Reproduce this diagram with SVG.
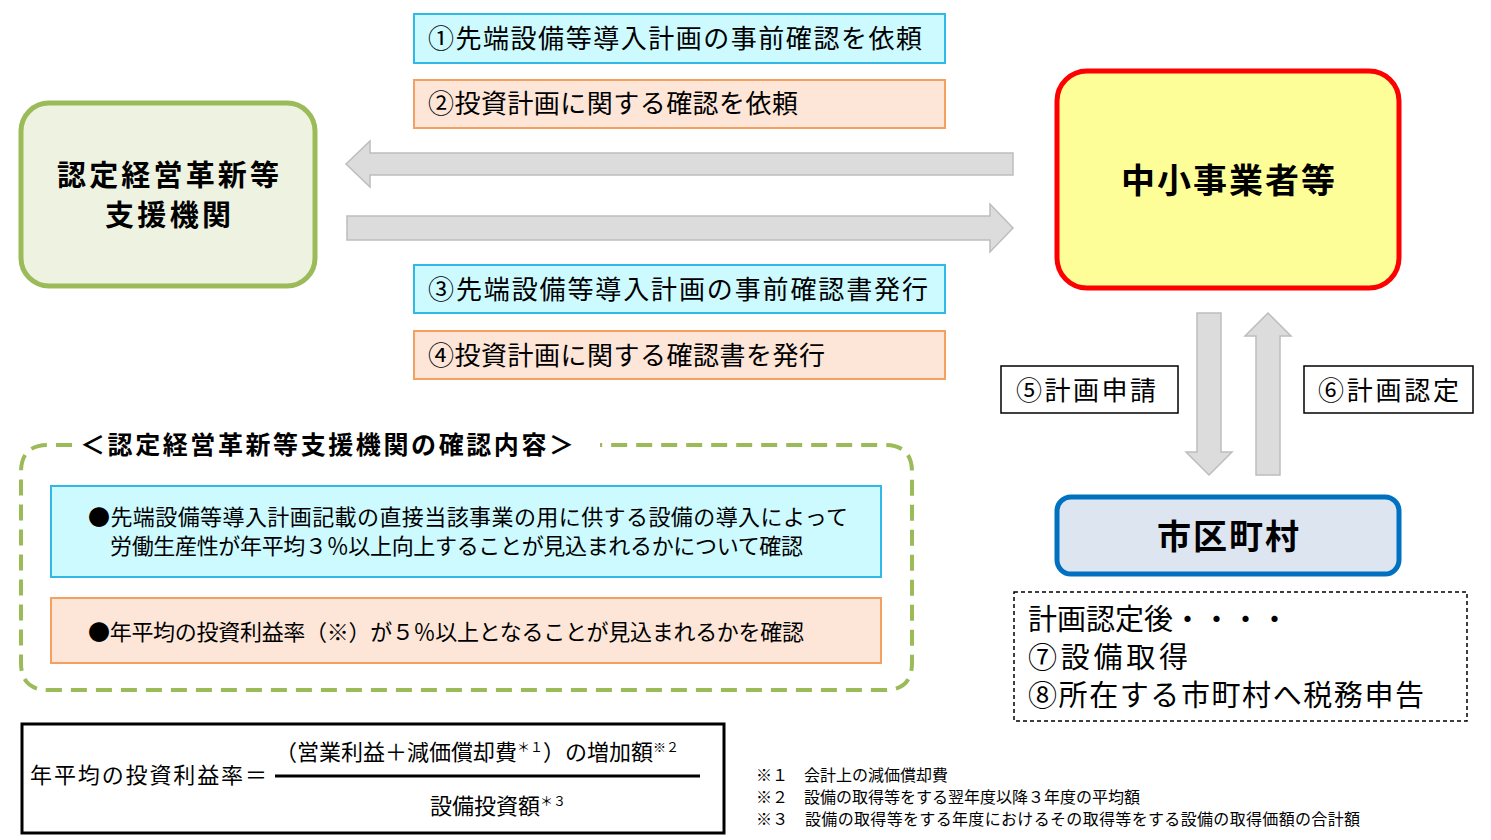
<svg xmlns="http://www.w3.org/2000/svg" width="1491" height="840" viewBox="0 0 1491 840">
<style>
text{font-family:"Noto Sans CJK JP","Noto Sans CJK SC",sans-serif;fill:#000}
.cy{fill:#ccfaff;stroke:#31b8e6;stroke-width:2}
.or{fill:#fde6d8;stroke:#f4a060;stroke-width:2}
.arr{fill:#dcdcdc;stroke:#bdbdbd;stroke-width:1.5}
.lbl{font-size:26px}
</style>
<rect width="1491" height="840" fill="#fff"/>
<g id="shien">
<rect x="21" y="103" width="294" height="183" rx="28" fill="#edf2e1" stroke="#9bbb59" stroke-width="5"/>
<text x="168" y="186" font-size="29" font-weight="bold" text-anchor="middle" textLength="222">認定経営革新等</text>
<text x="168" y="226" font-size="29" font-weight="bold" text-anchor="middle" textLength="126">支援機関</text>
</g>
<g id="chusho">
<rect x="1057" y="71" width="342" height="217" rx="30" fill="#fefe98" stroke="#ff0000" stroke-width="5"/>
<text x="1228" y="193" font-size="34" font-weight="bold" text-anchor="middle" textLength="214">中小事業者等</text>
</g>
<g id="shichoson">
<rect x="1057" y="497" width="342" height="77" rx="14" fill="#dde5f1" stroke="#0070c0" stroke-width="5"/>
<text x="1228" y="549" font-size="34" font-weight="bold" text-anchor="middle" textLength="142">市区町村</text>
</g>
<g id="l1"><rect x="414" y="14" width="531" height="49" class="cy"/><text x="428" y="48" class="lbl" textLength="494">①先端設備等導入計画の事前確認を依頼</text></g>
<g id="l2"><rect x="414" y="80" width="531" height="48" class="or"/><text x="428" y="113" class="lbl" textLength="370">②投資計画に関する確認を依頼</text></g>
<g id="l3"><rect x="414" y="265" width="531" height="48" class="cy"/><text x="428" y="299" class="lbl" textLength="500">③先端設備等導入計画の事前確認書発行</text></g>
<g id="l4"><rect x="414" y="331" width="531" height="48" class="or"/><text x="428" y="365" class="lbl" textLength="397">④投資計画に関する確認書を発行</text></g>
<g id="l5"><rect x="1001" y="366" width="177" height="47" fill="#fff" stroke="#000" stroke-width="1.5"/><text x="1016" y="400" class="lbl" textLength="140">⑤計画申請</text></g>
<g id="l6"><rect x="1304" y="366" width="169" height="47" fill="#fff" stroke="#000" stroke-width="1.5"/><text x="1318" y="400" class="lbl" textLength="141">⑥計画認定</text></g>
<g id="connectors">
<polygon class="arr" points="1013,153 370,153 370,141 346,164 370,187 370,175 1013,175"/>
<polygon class="arr" points="347,216 990,216 990,204 1013,228 990,252 990,240 347,240"/>
<polygon class="arr" points="1197,313 1221,313 1221,452 1232,452 1209,475 1186,452 1197,452"/>
<polygon class="arr" points="1256,475 1280,475 1280,336 1291,336 1268,313 1245,336 1256,336"/>
</g>
<g id="after">
<rect x="1014" y="592" width="453" height="129" fill="#fff" stroke="#000" stroke-width="1.5" stroke-dasharray="4,3"/>
<text x="1028" y="630" font-size="29">計画認定後・・・・</text>
<text x="1028" y="668" font-size="29" textLength="160">⑦設備取得</text>
<text x="1028" y="706" font-size="29" textLength="396">⑧所在する市町村へ税務申告</text>
</g>
<g id="kakunin">
<path d="M72,445 H48 Q21,445 21,472 V663 Q21,690 48,690 H885 Q912,690 912,663 V472 Q912,445 885,445 H600" fill="none" stroke="#9bbb59" stroke-width="4" stroke-dasharray="16,9"/>
<text x="80" y="454" font-size="25" font-weight="bold" textLength="494">＜認定経営革新等支援機関の確認内容＞</text>
<rect x="51" y="486" width="830" height="91" class="cy"/>
<text x="88" y="525" font-size="22" textLength="760">●先端設備等導入計画記載の直接当該事業の用に供する設備の導入によって</text>
<text x="110" y="554" font-size="22" textLength="693">労働生産性が年平均３％以上向上することが見込まれるかについて確認</text>
<rect x="51" y="598" width="830" height="65" class="or"/>
<text x="88" y="640" font-size="22" textLength="716">●年平均の投資利益率（※）が５％以上となることが見込まれるかを確認</text>
</g>
<g id="formula">
<rect x="22" y="724" width="702" height="109" fill="#fff" stroke="#000" stroke-width="3"/>
<text x="30" y="783" font-size="22" textLength="237">年平均の投資利益率＝</text>
<line x1="275" y1="776" x2="700" y2="776" stroke="#000" stroke-width="3"/>
<text x="275" y="760" font-size="22">（営業利益＋減価償却費<tspan font-size="13" dy="-8">＊１</tspan><tspan dy="8">）の増加額</tspan><tspan font-size="13" dy="-8">※２</tspan></text>
<text x="430" y="814" font-size="22">設備投資額<tspan font-size="13" dy="-8">＊３</tspan></text>
</g>
<g id="notes">
<text x="756" y="781" font-size="16">※１　会計上の減価償却費</text>
<text x="756" y="803" font-size="16">※２　設備の取得等をする翌年度以降３年度の平均額</text>
<text x="756" y="825" font-size="16" textLength="604">※３　設備の取得等をする年度におけるその取得等をする設備の取得価額の合計額</text>
</g>
</svg>
